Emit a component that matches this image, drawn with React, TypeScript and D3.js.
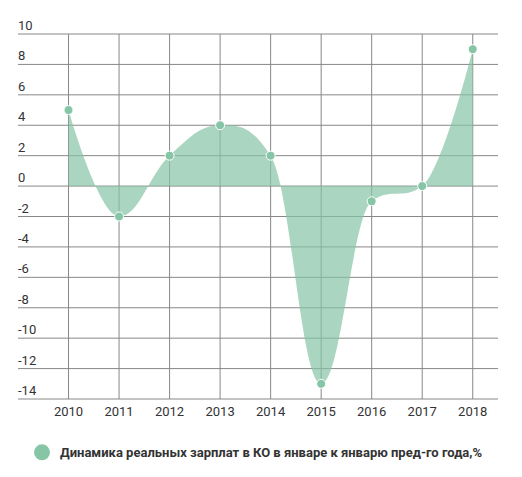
import React from "react";
import * as d3 from "d3";

const years = [2010, 2011, 2012, 2013, 2014, 2015, 2016, 2017, 2018];
const values = [5, -2, 2, 4, 2, -13, -1, 0, 9];
const yTicks = [10, 8, 6, 4, 2, 0, -2, -4, -6, -8, -10, -12, -14];
const seriesName = "Динамика реальных зарплат в КО в январе к январю пред-го года,%";

const W = 522;
const H = 477;
const color = "#86c5a6";

// Highcharts-like spline control points
function splinePath(pts: [number, number][], baseY: number | null) {
  const p = d3.path();
  const smoothing = 1.5;
  const denom = smoothing + 1;
  const rc: { x: number; y: number }[] = [];
  pts.forEach((pt, i) => {
    const [plotX, plotY] = pt;
    if (i === 0) {
      p.moveTo(plotX, plotY);
      rc[i] = { x: plotX, y: plotY };
      return;
    }
    let leftContX = plotX;
    let leftContY = plotY;
    const last = pts[i - 1];
    const next = pts[i + 1];
    if (next) {
      const [lastX, lastY] = last;
      const [nextX, nextY] = next;
      leftContX = (smoothing * plotX + lastX) / denom;
      leftContY = (smoothing * plotY + lastY) / denom;
      const rightContX = (smoothing * plotX + nextX) / denom;
      let rightContY = (smoothing * plotY + nextY) / denom;
      let correction = 0;
      if (rightContX !== leftContX) {
        correction = ((rightContY - leftContY) * (rightContX - plotX)) / (rightContX - leftContX) + plotY - rightContY;
      }
      leftContY += correction;
      rightContY += correction;
      if (leftContY > lastY && leftContY > plotY) {
        leftContY = Math.max(lastY, plotY);
        rightContY = 2 * plotY - leftContY;
      } else if (leftContY < lastY && leftContY < plotY) {
        leftContY = Math.min(lastY, plotY);
        rightContY = 2 * plotY - leftContY;
      }
      if (rightContY > nextY && rightContY > plotY) {
        rightContY = Math.max(nextY, plotY);
        leftContY = 2 * plotY - rightContY;
      } else if (rightContY < nextY && rightContY < plotY) {
        rightContY = Math.min(nextY, plotY);
        leftContY = 2 * plotY - rightContY;
      }
      rc[i] = { x: rightContX, y: rightContY };
    } else {
      rc[i] = { x: plotX, y: plotY };
    }
    p.bezierCurveTo(rc[i - 1].x, rc[i - 1].y, leftContX, leftContY, plotX, plotY);
  });
  if (baseY !== null) {
    p.lineTo(pts[pts.length - 1][0], baseY);
    p.lineTo(pts[0][0], baseY);
    p.closePath();
  }
  return p.toString();
}

export default function App() {
  const x = d3.scaleLinear().domain([2009, 2018.5]).range([18, 498]);
  const y = d3.scaleLinear().domain([-14, 10]).range([399, 34]);
  const pts: [number, number][] = years.map((yr, i) => [x(yr), y(values[i])]);
  const areaD = splinePath(pts, y(0));
  const font = "Roboto, 'Open Sans', sans-serif";

  return (
    <svg width={W} height={H} style={{ position: "absolute", left: 0, top: 0 }} fontFamily={font}>
      <rect width={W} height={H} fill="#fff" />
      {yTicks.map((t) => (
        <g key={t}>
          <line x1={18} x2={498} y1={y(t)} y2={y(t)} stroke="#888" strokeWidth={1} />
          <text x={18} y={y(t) - 4} fontSize={13} fill="#333">
            {t}
          </text>
        </g>
      ))}
      {years.map((yr) => (
        <g key={yr}>
          <line x1={x(yr)} x2={x(yr)} y1={y(10)} y2={y(-14)} stroke="#888" strokeWidth={1} />
          <text x={x(yr)} y={416} fontSize={13} fill="#333" textAnchor="middle">
            {yr}
          </text>
        </g>
      ))}
      <path d={areaD} fill={color} fillOpacity={0.7} stroke="none" />
      {pts.map(([px, py], i) => (
        <circle key={i} cx={px} cy={py} r={4.5} fill={color} stroke="#fff" strokeWidth={1} />
      ))}
      <circle cx={42} cy={452.3} r={8} fill={color} />
      <text x={60} y={457} fontSize={13} fontWeight="bold" fill="#333">
        {seriesName}
      </text>
    </svg>
  );
}
